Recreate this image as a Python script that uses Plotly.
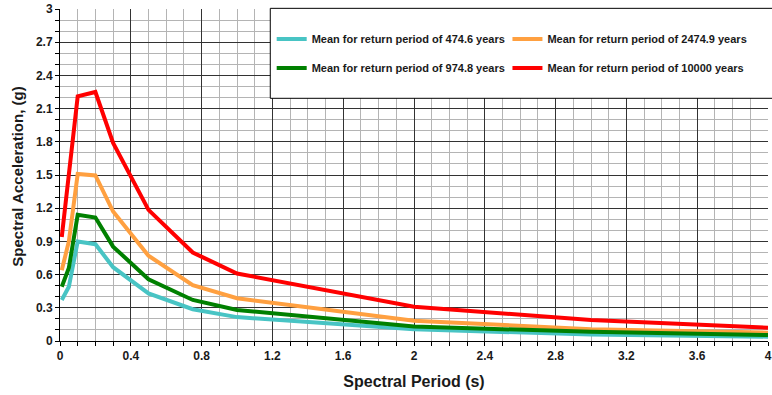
import plotly.graph_objects as go

# spectral periods (s)
periods = [0.01, 0.05, 0.1, 0.2, 0.3, 0.5, 0.75, 1.0, 2.0, 3.0, 4.0]

# mean spectral acceleration (g) per return period
sa_474 = [0.37, 0.49, 0.90, 0.875, 0.667, 0.43, 0.287, 0.216, 0.106, 0.058, 0.039]
sa_2475 = [0.64, 0.90, 1.51, 1.496, 1.17, 0.77, 0.505, 0.386, 0.184, 0.107, 0.075]
sa_975 = [0.49, 0.66, 1.14, 1.116, 0.853, 0.558, 0.371, 0.28, 0.13, 0.083, 0.054]
sa_10000 = [0.94, 1.50, 2.21, 2.25, 1.79, 1.185, 0.80, 0.61, 0.31, 0.19, 0.12]

names = ["Mean for return period of 474.6 years",
         "Mean for return period of 2474.9 years",
         "Mean for return period of 974.8 years",
         "Mean for return period of 10000 years"]
series = [sa_474, sa_2475, sa_975, sa_10000]
colors = ["#48C4C4", "#FFA040", "#008000", "#FF0000"]
legends = ["legend", "legend2", "legend3", "legend4"]

font = dict(family="Arial, Liberation Sans, sans-serif", color="#1a1a1a", weight="bold")

fig = go.Figure()
for name, ys, c, lg in zip(names, series, colors, legends):
    fig.add_trace(go.Scatter(x=periods, y=ys, mode="lines", name=name,
                             line=dict(color=c, width=4), legend=lg))

# legend frame
fig.add_shape(type="rect", xref="paper", yref="paper", x0=0.297, x1=1.012, y0=0.731, y1=1.002,
              line=dict(color="black", width=1), fillcolor="white", layer="above")

# y title placed by hand (axis title sits too close to the labels)
fig.add_annotation(text="Spectral Acceleration, (g)", textangle=-90, showarrow=False,
                   xref="paper", yref="paper", x=0, y=0.495, xshift=-42,
                   xanchor="center", yanchor="middle", font=dict(size=15, **font))

leg = dict(xanchor="left", yanchor="middle", bgcolor="rgba(0,0,0,0)",
           borderwidth=0, font=dict(size=11, **font))

fig.update_layout(
    width=772, height=395,
    margin=dict(l=60, r=4, t=9, b=54, autoexpand=False),
    paper_bgcolor="white", plot_bgcolor="white",
    showlegend=True,
    legend=dict(x=0.299, y=0.9096, **leg),
    legend2=dict(x=0.632, y=0.9096, **leg),
    legend3=dict(x=0.299, y=0.822, **leg),
    legend4=dict(x=0.632, y=0.822, **leg),
    xaxis=dict(range=[0, 4], dtick=0.4, tick0=0, showgrid=True, gridcolor="#333", gridwidth=1,
               zeroline=False, showline=True, linecolor="black", linewidth=1,
               ticks="outside", ticklen=4, tickcolor="black",
               tickfont=dict(size=12, **font),
               minor=dict(dtick=0.1, showgrid=True, gridcolor="#b4b4b4", gridwidth=1,
                          ticks="outside", ticklen=4, tickcolor="black"),
               title=dict(text="Spectral Period (s)", font=dict(size=16, **font), standoff=13)),
    yaxis=dict(range=[0, 3], dtick=0.3, tick0=0, showgrid=True, gridcolor="#333", gridwidth=1,
               zeroline=False, showline=True, linecolor="black", linewidth=1,
               ticks="outside", ticklen=4, tickcolor="black",
               tickfont=dict(size=12, **font),
               minor=dict(dtick=0.1, showgrid=True, gridcolor="#b4b4b4", gridwidth=1,
                          ticks="outside", ticklen=4, tickcolor="black")),
)

# page body margin would shift the figure by 8px
fig.write_html("out.html", config={"displayModeBar": False},
               post_script="document.body.style.margin='0';")
